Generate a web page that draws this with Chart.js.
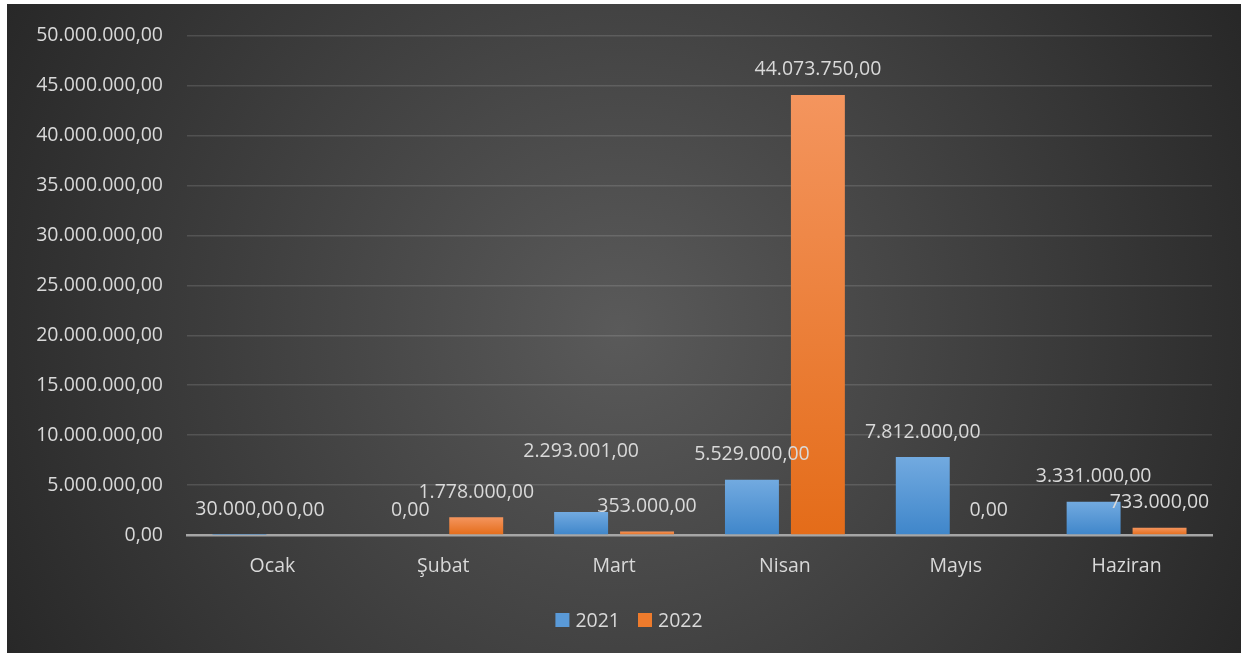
<!DOCTYPE html>
<html><head><meta charset="utf-8">
<script src="https://cdn.jsdelivr.net/npm/chart.js@4/dist/chart.umd.min.js"></script>
<style>html,body{margin:0;padding:0;background:#fff;}#wrap{width:1243px;height:657px;position:relative;}</style>
</head><body><div id="wrap"><canvas id="c" width="1243" height="657"></canvas></div>
<script>
const categories = ['Ocak', 'Şubat', 'Mart', 'Nisan', 'Mayıs', 'Haziran'];
const series2021 = [30000, 0, 2293001, 5529000, 7812000, 3331000];
const series2022 = [0, 1778000, 353000, 44073750, 0, 733000];
const seriesNames = ['2021', '2022'];
const yMax = 50000000, yStep = 5000000;

function fmtTR(v){
  const neg = v < 0; v = Math.abs(v);
  let [i, d] = v.toFixed(2).split('.');
  i = i.replace(/\B(?=(\d{3})+(?!\d))/g, '.');
  return (neg?'-':'') + i + ',' + d;
}
const FONT = "'Open Sans', 'Liberation Sans', sans-serif";
const FSIZE = 19.5;
const TXT = '#d9d9d9';
const legendColors = ['#5a9ad8', '#ee7b2c'];

function barGrad(top, bottom){
  return function(context){
    const chart = context.chart; const ca = chart.chartArea;
    if (!ca) return top;
    const v = context.raw || 0;
    const y0 = chart.scales.y.getPixelForValue(v);
    const y1 = chart.scales.y.getPixelForValue(0);
    if (y1 - y0 < 1) return bottom;
    const g = chart.ctx.createLinearGradient(0, y0, 0, y1);
    g.addColorStop(0, top); g.addColorStop(1, bottom);
    return g;
  };
}

const bgPlugin = {
  id: 'bg',
  beforeDraw(chart){
    const c = chart.ctx; const x0 = 7, y0 = 4, x1 = 1241, y1 = 653;
    c.save();
    const g = c.createRadialGradient(620, 330, 0, 620, 330, 720);
    g.addColorStop(0, '#5a5a5a');
    g.addColorStop(1, '#262626');
    c.fillStyle = g;
    c.fillRect(x0, y0, x1 - x0, y1 - y0);
    c.restore();
  }
};

const labelPlugin = {
  id: 'vlabels',
  afterDatasetsDraw(chart, args, opts){
    const c = chart.ctx;
    c.save();
    c.font = FSIZE + 'px ' + FONT;
    c.fillStyle = TXT;
    c.textAlign = 'center';
    c.textBaseline = 'middle';
    chart.data.datasets.forEach((ds, di) => {
      const meta = chart.getDatasetMeta(di);
      meta.data.forEach((el, i) => {
        const extra = (opts.extra && opts.extra[di + '-' + i]) || 0;
        c.fillText(fmtTR(ds.data[i]), el.x, el.y - 25 - extra);
      });
    });
    c.restore();
  }
};

const legendPlugin = {
  id: 'mylegend',
  afterDraw(chart, args, opts){
    const c = chart.ctx;
    c.save();
    c.font = FSIZE + 'px ' + FONT;
    c.textBaseline = 'middle';
    c.textAlign = 'left';
    const box = 14, gap = 6, itemGap = 18;
    const items = chart.data.datasets.map((ds, i) => ({ text: ds.label, color: legendColors[i], w: box + gap + c.measureText(ds.label).width }));
    const total = items.reduce((a, it) => a + it.w, 0) + itemGap * (items.length - 1);
    let x = opts.cx - total / 2;
    const y = opts.cy;
    items.forEach(it => {
      c.fillStyle = it.color;
      c.fillRect(x, y - box / 2, box, box);
      c.fillStyle = TXT;
      c.fillText(it.text, x + box + gap, y + 1);
      x += it.w + itemGap;
    });
    c.restore();
  }
};

new Chart(document.getElementById('c'), {
  type: 'bar',
  data: {
    labels: categories,
    datasets: [
      { label: seriesNames[0], data: series2021,
        backgroundColor: barGrad('#72aae0', '#3f86ca'), borderWidth: 0 },
      { label: seriesNames[1], data: series2022,
        backgroundColor: barGrad('#f4955e', '#e46c19'), borderWidth: 0 }
    ]
  },
  options: {
    responsive: false,
    animation: false,
    devicePixelRatio: 1,
    barPercentage: 0.818,
    categoryPercentage: 0.772,
    layout: { padding: { left: 7, right: 31, top: 35, bottom: 57 } },
    plugins: {
      legend: { display: false },
      tooltip: { enabled: false },
      vlabels: { extra: { '0-2': 36 } },
      mylegend: { cx: 629, cy: 620 }
    },
    scales: {
      x: {
        grid: { display: false, drawTicks: false },
        border: { display: true, color: '#a6a6a6', width: 2.5 },
        ticks: { color: TXT, font: { family: FONT, size: FSIZE }, padding: 20 },
        afterFit(s){ s.height = 65; }
      },
      y: {
        min: 0, max: yMax,
        grid: { color: 'rgba(255,255,255,0.13)', lineWidth: 1.5, drawTicks: false },
        border: { display: false },
        ticks: { stepSize: yStep, color: TXT, font: { family: FONT, size: FSIZE }, padding: 24,
                 callback: v => fmtTR(v) },
        afterFit(s){ s.width = 180; }
      }
    }
  },
  plugins: [bgPlugin, labelPlugin, legendPlugin]
});
</script></body></html>
